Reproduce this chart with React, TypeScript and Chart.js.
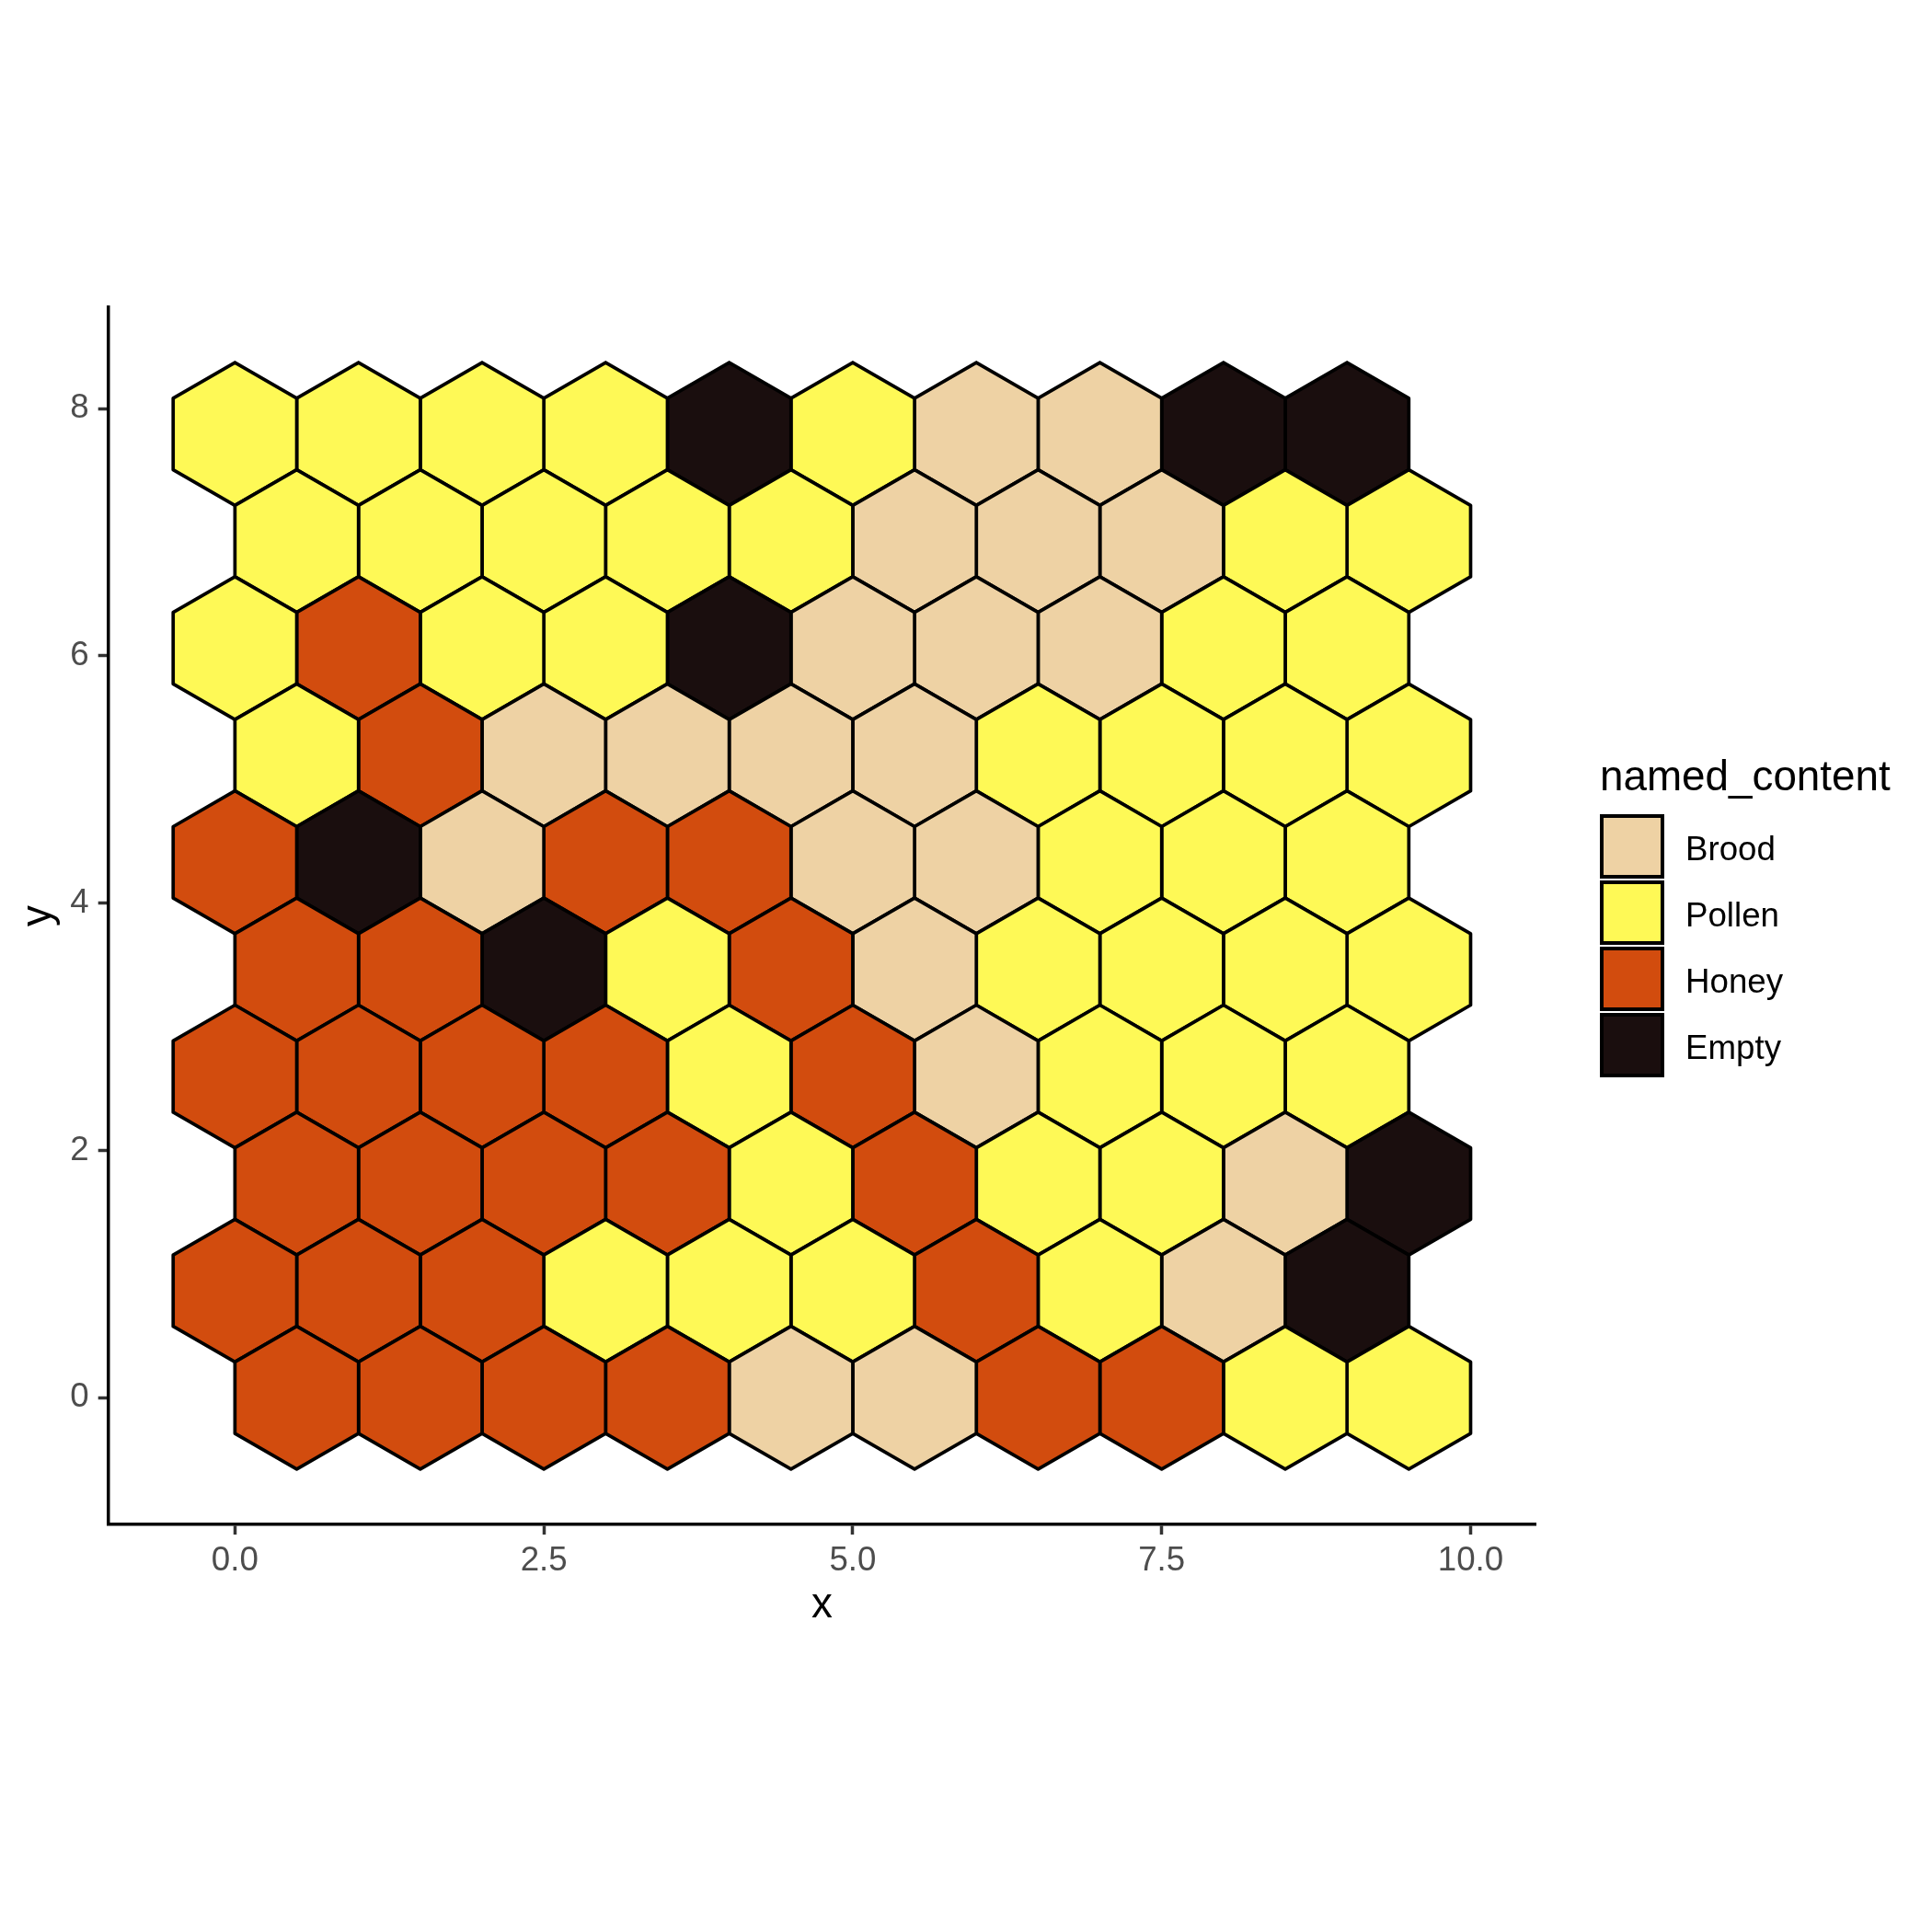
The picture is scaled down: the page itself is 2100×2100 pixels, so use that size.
import React, { useEffect, useRef } from "react";
import { Chart, registerables } from "chart.js";

Chart.register(...registerables);

// ---- data ----
const categories = ["Brood", "Pollen", "Honey", "Empty"];
const categoryColors = ["#EED2A4", "#FEF956", "#D24C0E", "#1A0E0E"];

// Rows of the comb from bottom (row 0) to top (row 9); even rows are shifted by half a cell.
const row0 = ["Honey", "Honey", "Honey", "Honey", "Brood", "Brood", "Honey", "Honey", "Pollen", "Pollen"];
const row1 = ["Honey", "Honey", "Honey", "Pollen", "Pollen", "Pollen", "Honey", "Pollen", "Brood", "Empty"];
const row2 = ["Honey", "Honey", "Honey", "Honey", "Pollen", "Honey", "Pollen", "Pollen", "Brood", "Empty"];
const row3 = ["Honey", "Honey", "Honey", "Honey", "Pollen", "Honey", "Brood", "Pollen", "Pollen", "Pollen"];
const row4 = ["Honey", "Honey", "Empty", "Pollen", "Honey", "Brood", "Pollen", "Pollen", "Pollen", "Pollen"];
const row5 = ["Honey", "Empty", "Brood", "Honey", "Honey", "Brood", "Brood", "Pollen", "Pollen", "Pollen"];
const row6 = ["Pollen", "Honey", "Brood", "Brood", "Brood", "Brood", "Pollen", "Pollen", "Pollen", "Pollen"];
const row7 = ["Pollen", "Honey", "Pollen", "Pollen", "Empty", "Brood", "Brood", "Brood", "Pollen", "Pollen"];
const row8 = ["Pollen", "Pollen", "Pollen", "Pollen", "Pollen", "Brood", "Brood", "Brood", "Pollen", "Pollen"];
const row9 = ["Pollen", "Pollen", "Pollen", "Pollen", "Empty", "Pollen", "Brood", "Brood", "Empty", "Empty"];
const rows = [row0, row1, row2, row3, row4, row5, row6, row7, row8, row9];

const xTickValues = [0, 2.5, 5, 7.5, 10];
const xTickLabels = ["0.0", "2.5", "5.0", "7.5", "10.0"];
const yTickValues = [0, 2, 4, 6, 8];
const yTickLabels = ["0", "2", "4", "6", "8"];

const FONT = '"Liberation Sans", Arial, Helvetica, sans-serif';

function hexDatasets() {
  const r = 1 / Math.sqrt(3); // circumradius for unit-width pointy hex
  const dy = Math.sqrt(3) / 2;
  const sets: any[] = [];
  rows.forEach((row, ri) => {
    row.forEach((cat, ci) => {
      const cx = ci + (ri % 2 === 0 ? 0.5 : 0);
      const cy = ri * dy;
      const pts: { x: number; y: number }[] = [];
      for (let k = 0; k <= 6; k++) {
        const a = Math.PI / 2 + (k % 6) * (Math.PI / 3);
        pts.push({ x: cx + r * Math.cos(a), y: cy + r * Math.sin(a) });
      }
      const color = categoryColors[categories.indexOf(cat)];
      sets.push({
        label: cat,
        data: pts,
        showLine: true,
        fill: "shape",
        backgroundColor: color,
        borderColor: "#000000",
        borderWidth: 3.7,
        borderJoinStyle: "round",
        borderCapStyle: "round",
        pointRadius: 0,
        pointHoverRadius: 0,
        tension: 0,
      });
    });
  });
  return sets;
}

export default function App() {
  const canvasRef = useRef<HTMLCanvasElement | null>(null);

  useEffect(() => {
    if (!canvasRef.current) return;
    const chart = new Chart(canvasRef.current, {
      type: "scatter",
      data: { datasets: hexDatasets() },
      options: {
        animation: false,
        responsive: false,
        maintainAspectRatio: false,
        events: [],
        layout: { padding: { left: 17.7, right: 431, top: 334, bottom: 313 } },
        plugins: {
          legend: { display: false },
          tooltip: { enabled: false },
        },
        scales: {
          x: {
            type: "linear",
            position: "bottom",
            min: -1.025,
            max: 10.525,
            afterFit: (s: any) => {
              s.height = 130;
            },
            afterBuildTicks: (s: any) => {
              s.ticks = xTickValues.map((v) => ({ value: v }));
            },
            ticks: {
              autoSkip: false,
              maxRotation: 0,
              padding: 7,
              color: "#4D4D4D",
              font: { family: FONT, size: 36.7, lineHeight: 1.2 },
              callback: (v: any) => xTickLabels[xTickValues.indexOf(Number(v))],
            },
            grid: {
              display: true,
              drawOnChartArea: false,
              drawTicks: true,
              tickLength: 11,
              tickColor: "#333333",
              tickWidth: 3.5,
            },
            border: { display: true, color: "#000000", width: 3.5 },
            title: {
              display: true,
              text: "x",
              color: "#000000",
              font: { family: FONT, size: 45.8, lineHeight: 1 },
              padding: { top: 0, bottom: 19 },
            },
          },
          y: {
            type: "linear",
            position: "left",
            min: -1.0248,
            max: 8.819,
            afterFit: (s: any) => {
              s.width = 100;
            },
            afterBuildTicks: (s: any) => {
              s.ticks = yTickValues.map((v) => ({ value: v }));
            },
            ticks: {
              autoSkip: false,
              padding: 10,
              color: "#4D4D4D",
              font: { family: FONT, size: 36.7, lineHeight: 1.2 },
              callback: (v: any) => yTickLabels[yTickValues.indexOf(Number(v))],
            },
            grid: {
              display: true,
              drawOnChartArea: false,
              drawTicks: true,
              tickLength: 11,
              tickColor: "#333333",
              tickWidth: 3.5,
            },
            border: { display: true, color: "#000000", width: 3.5 },
            title: {
              display: true,
              text: "y",
              color: "#000000",
              font: { family: FONT, size: 45.8, lineHeight: 1 },
              padding: { top: 1.5, bottom: 0 },
            },
          },
        },
      } as any,
    });
    return () => chart.destroy();
  }, []);

  const keyTops = [885, 957, 1029, 1101];

  return (
    <div
      style={{
        position: "absolute",
        left: 0,
        top: 0,
        width: 2100,
        height: 2100,
        background: "#ffffff",
        fontFamily: FONT,
      }}
    >
      <canvas
        ref={canvasRef}
        width={2100}
        height={2100}
        style={{ position: "absolute", left: 0, top: 0, width: 2100, height: 2100 }}
      />
      <div
        style={{
          position: "absolute",
          left: 1739,
          top: 821,
          fontSize: 45.8,
          lineHeight: "45.8px",
          color: "#000",
          whiteSpace: "nowrap",
        }}
      >
        named_content
      </div>
      {categories.map((c, i) => (
        <React.Fragment key={c}>
          <div
            style={{
              position: "absolute",
              left: 1739,
              top: keyTops[i],
              width: 70,
              height: 70,
              boxSizing: "border-box",
              border: "4px solid #000",
              background: categoryColors[i],
            }}
          />
          <div
            style={{
              position: "absolute",
              left: 1832,
              top: keyTops[i] + 35 - 17,
              height: 40,
              lineHeight: "40px",
              fontSize: 36.7,
              color: "#000",
              whiteSpace: "nowrap",
            }}
          >
            {c}
          </div>
        </React.Fragment>
      ))}
    </div>
  );
}
